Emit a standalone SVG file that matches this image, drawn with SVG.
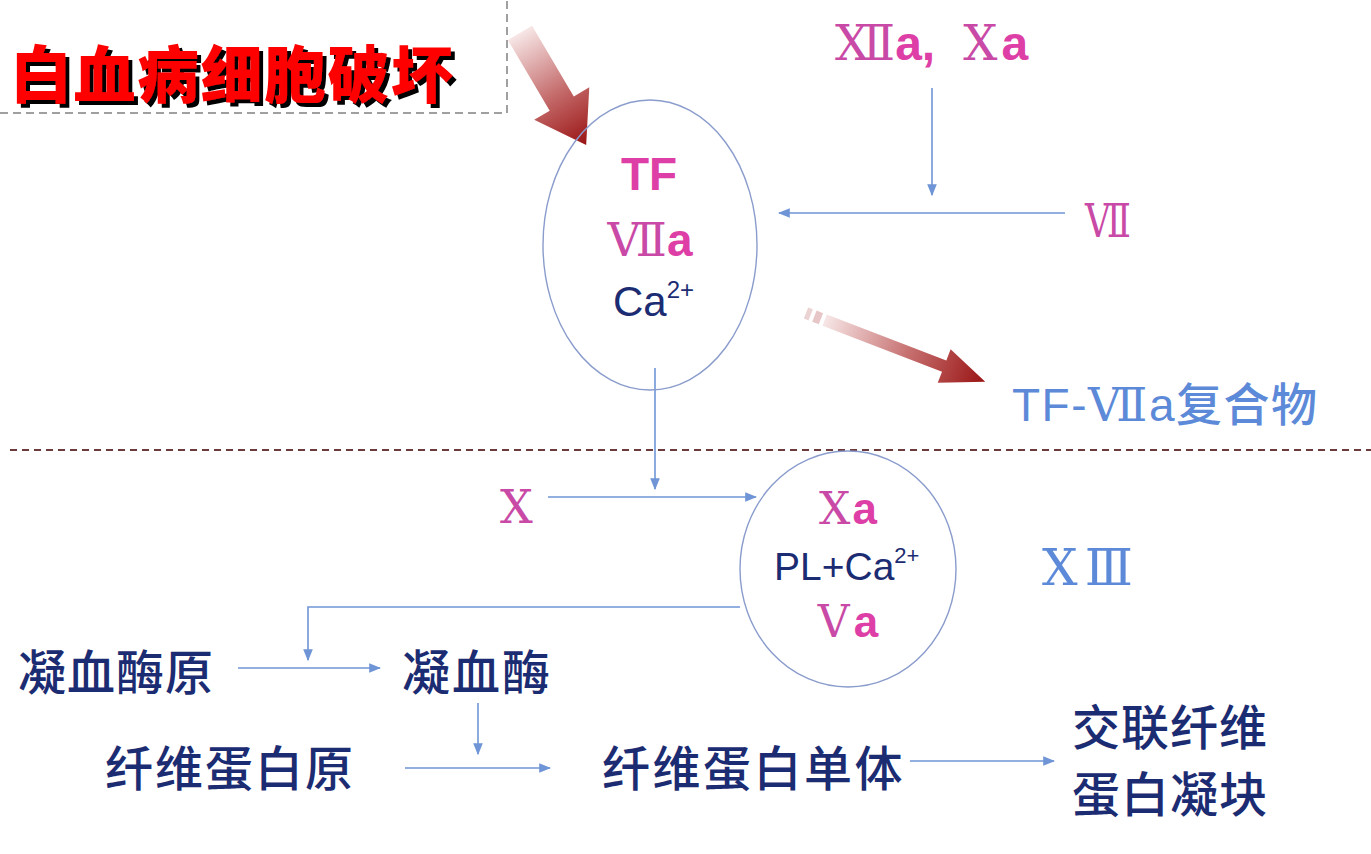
<svg xmlns="http://www.w3.org/2000/svg" width="1371" height="854" viewBox="0 0 1371 854">
<defs>
<style>
.cn{fill:none;stroke:#6f95d6;stroke-width:1.6}
.ell{fill:none;stroke:#8a9ccc;stroke-width:1.4}
.pk{fill:#dd3fa6}
.rom{font-family:"Liberation Serif","DejaVu Serif","Noto Sans CJK SC",serif;font-weight:normal}
.sans{font-family:"Liberation Sans","Noto Sans CJK SC",sans-serif}
.cjk{font-family:"Noto Sans CJK SC",sans-serif;font-weight:500;fill:#1c2c72}
.navy{fill:#1c2c72}
.blue{fill:#5d8ad8}
</style>
<filter id="sh" x="-5%" y="-20%" width="115%" height="150%">
<feFlood flood-color="#000"/>
<feComposite in2="SourceAlpha" operator="in"/>
<feOffset dx="4" dy="4" result="s"/>
<feMerge><feMergeNode in="s"/><feMergeNode in="SourceGraphic"/></feMerge>
</filter>
<marker id="ah2" viewBox="0 0 10 10" refX="9" refY="5" markerWidth="12" markerHeight="12" markerUnits="userSpaceOnUse" orient="auto"><path d="M0,1 L10,5 L0,9 z" fill="#6f95d6"/></marker>
<linearGradient id="rg" x1="0" y1="0" x2="1" y2="0"><stop offset="0" stop-color="#f7e6e6"/><stop offset="0.55" stop-color="#c46a6a"/><stop offset="1" stop-color="#9a1414"/></linearGradient>
</defs>
<rect width="1371" height="854" fill="#ffffff"/>

<g id="title">
<path d="M0,113 H507 V0" fill="none" stroke="#a0a0a0" stroke-width="2" stroke-dasharray="8,5"/>
<text x="10" y="98" font-family="Noto Sans CJK SC,sans-serif" font-weight="900" font-size="62" letter-spacing="1.5" fill="#ff0000" filter="url(#sh)">白血病细胞破坏</text>
</g>

<g id="arrow-red-1" transform="translate(520,33) rotate(59.4)">
<path d="M0,-14 L82,-14 L82,-32 L130,0 L82,32 L82,14 L0,14 z" fill="url(#rg)"/>
</g>
<g id="arrow-red-2" transform="translate(806,313) rotate(21)">
<rect x="0" y="-6" width="5" height="12" fill="#ecd3d3"/>
<rect x="9" y="-6" width="7" height="12" fill="#e6c6c6"/>
<path d="M20,-6 L148,-6 L148,-18 L192,0 L148,18 L148,6 L20,6 z" fill="url(#rg)"/>
</g>

<g id="divider">
<line x1="10" y1="450" x2="1371" y2="450" stroke="#6b3a3a" stroke-width="2" stroke-dasharray="7,5"/>
</g>

<g id="connectors">
<line class="cn" x1="932" y1="88" x2="932" y2="195" marker-end="url(#ah2)"/>
<line class="cn" x1="1065" y1="213" x2="779" y2="213" marker-end="url(#ah2)"/>
<line class="cn" x1="655" y1="368" x2="655" y2="489" marker-end="url(#ah2)"/>
<line class="cn" x1="548" y1="497" x2="756" y2="497" marker-end="url(#ah2)"/>
<path class="cn" d="M740,607 H308 V660" marker-end="url(#ah2)"/>
<line class="cn" x1="238" y1="668" x2="380" y2="668" marker-end="url(#ah2)"/>
<line class="cn" x1="478" y1="703" x2="478" y2="754" marker-end="url(#ah2)"/>
<line class="cn" x1="405" y1="768" x2="550" y2="768" marker-end="url(#ah2)"/>
<line class="cn" x1="910" y1="761" x2="1054" y2="761" marker-end="url(#ah2)"/>
</g>

<g id="node-tf">
<ellipse class="ell" cx="650" cy="245" rx="107" ry="145"/>
<text x="649" y="190" text-anchor="middle" class="sans pk" font-size="46" font-weight="bold">TF</text>
<text x="650" y="256" text-anchor="middle" font-size="46"><tspan class="rom" fill="#c94aa6">Ⅶ</tspan><tspan class="sans pk" font-weight="bold">a</tspan></text>
<text x="613" y="316" class="sans navy" font-size="42">Ca<tspan font-size="24" dy="-18">2+</tspan></text>
</g>

<g id="node-xiia">
<text x="835" y="60" font-size="48"><tspan class="rom" fill="#c94aa6">Ⅻ</tspan><tspan class="sans pk" font-weight="bold">a,</tspan><tspan class="rom" fill="#c94aa6" dx="28">Ⅹ</tspan><tspan class="sans pk" dx="4" font-weight="bold">a</tspan></text>
</g>

<g id="node-vii">
<text x="1085" y="237" class="rom" font-size="46" fill="#c94aa6" textLength="46" lengthAdjust="spacingAndGlyphs">Ⅶ</text>
</g>

<g id="node-complex">
<text x="1012" y="421" font-size="46" class="blue" letter-spacing="1.5"><tspan class="sans">TF-</tspan><tspan class="rom">Ⅶ</tspan><tspan class="sans">a</tspan><tspan font-family="Noto Sans CJK SC,sans-serif" font-weight="500">复合物</tspan></text>
</g>

<g id="node-x">
<text x="500" y="523" class="rom" font-size="46" fill="#c94aa6">Ⅹ</text>
</g>

<g id="node-xa">
<ellipse class="ell" cx="848" cy="569" rx="108" ry="118"/>
<text x="848" y="524" text-anchor="middle" font-size="44"><tspan class="rom" fill="#c94aa6">Ⅹ</tspan><tspan class="sans pk" dx="2" font-weight="bold">a</tspan></text>
<text x="774" y="580" class="sans navy" font-size="39">PL+Ca<tspan font-size="22" dy="-17">2+</tspan></text>
<text x="848" y="637" text-anchor="middle" font-size="44"><tspan class="rom" fill="#c94aa6">Ⅴ</tspan><tspan class="sans pk" dx="4" font-weight="bold">a</tspan></text>
</g>

<g id="node-xiii">
<text x="1042" y="585" class="rom blue" font-size="50" textLength="91" lengthAdjust="spacing">ⅩⅢ</text>
</g>

<g id="node-prothrombin"><text x="18" y="690" class="cjk" font-size="48" letter-spacing="1">凝血酶原</text></g>
<g id="node-thrombin"><text x="402" y="690" class="cjk" font-size="48" letter-spacing="2">凝血酶</text></g>
<g id="node-fibrinogen"><text x="105" y="786" class="cjk" font-size="48" letter-spacing="2">纤维蛋白原</text></g>
<g id="node-fibrin-monomer"><text x="602" y="786" class="cjk" font-size="48" letter-spacing="2.5">纤维蛋白单体</text></g>
<g id="node-clot">
<text x="1072" y="745" class="cjk" font-size="48" letter-spacing="1">交联纤维</text>
<text x="1072" y="812" class="cjk" font-size="48" letter-spacing="1">蛋白凝块</text>
</g>
</svg>
